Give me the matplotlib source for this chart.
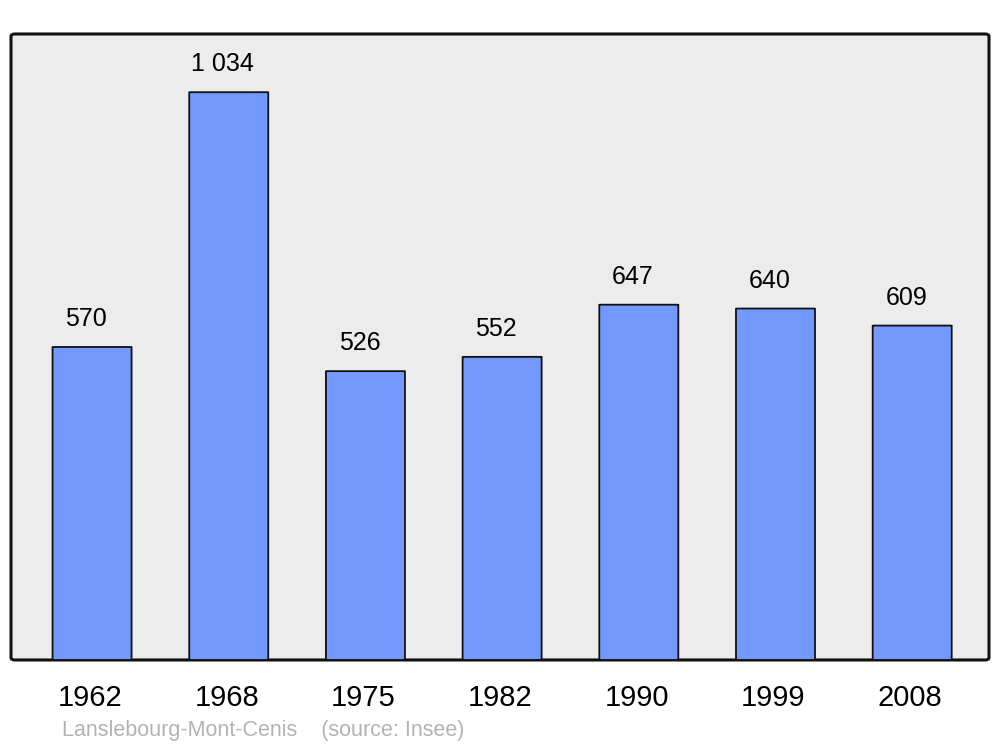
import matplotlib
matplotlib.use("Agg")
import matplotlib.pyplot as plt
from matplotlib.patches import FancyBboxPatch

plt.rcParams['font.family'] = ['Liberation Sans', 'DejaVu Sans']

years = ["1962", "1968", "1975", "1982", "1990", "1999", "2008"]
population = [570, 1034, 526, 552, 647, 640, 609]
value_labels = ["570", "1 034", "526", "552", "647", "640", "609"]
caption = "Lanslebourg-Mont-Cenis    (source: Insee)"

fig = plt.figure(figsize=(10, 7.47), dpi=100)
ax = fig.add_axes([0.011, 0.1165, 0.978, 0.838])
ax.set_facecolor("none")

# rounded frame behind everything
frame = FancyBboxPatch((0, 0), 1, 1, boxstyle="round,pad=0,rounding_size=0.004",
                       transform=ax.transAxes, facecolor="#ececec",
                       edgecolor="#111111", linewidth=2.2, zorder=0, clip_on=False)
ax.add_patch(frame)

x = list(range(len(years)))
width = 0.578
for xi, v in zip(x, population):
    ax.add_patch(FancyBboxPatch((xi - width / 2, 0), width, v,
                                boxstyle="round,pad=0,rounding_size=0.012",
                                mutation_aspect=28,
                                facecolor="#7399ff", edgecolor="#111111",
                                linewidth=1.3, zorder=2))

for xi, v, lab in zip(x, population, value_labels):
    ax.annotate(lab, (xi, v), xytext=(-6, 16), textcoords="offset pixels",
                ha="center", va="bottom", fontsize=18, color="black")

ax.set_xlim(-0.593, 6.562)
ax.set_ylim(0, 1140)
ax.set_xticks([xi - 0.015 for xi in x])
ax.set_xticklabels(years, fontsize=21)
ax.tick_params(axis="x", length=0, pad=17)
ax.set_yticks([])
for s in ax.spines.values():
    s.set_visible(False)

fig.text(0.062, 0.008, caption, fontsize=15.5, color="#b3b3b3",
         ha="left", va="bottom")

fig.savefig("out.png", dpi=100)
